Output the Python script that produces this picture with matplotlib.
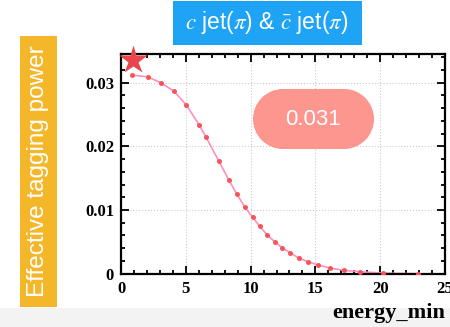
import matplotlib.pyplot as plt
from matplotlib.patches import Circle, Rectangle
from matplotlib.ticker import MultipleLocator

# data
energy_min = [0.85, 2.07, 3.05, 4.06, 5.05, 6.05, 6.57, 7.56, 8.31, 8.95, 9.55, 10.15,
              10.71, 11.26, 11.85, 12.42, 13.04, 13.71, 14.43, 15.2, 16.1, 17.17,
              18.46, 20.19, 22.9]
tag_power = [0.0312, 0.0309, 0.0300, 0.0287, 0.0265, 0.0233, 0.0214, 0.01765, 0.01476,
             0.01246, 0.01047, 0.00885, 0.00744, 0.00613, 0.00503, 0.00408, 0.0033,
             0.00246, 0.00189, 0.00137, 0.0009, 0.00053, 0.0003, 0.0001, 0.0]
best_x = 0.93
best_y = 0.03355
best_label = "0.031"
x_ticks = [0, 5, 10, 15, 20, 25]
y_ticks = [0, 0.01, 0.02, 0.03]
y_ticklabels = ["0", "0.01", "0.02", "0.03"]

plt.rcParams['mathtext.fontset'] = 'stix'

fig = plt.figure(figsize=(4.5, 3.27), dpi=100)

# overlay in pixel units for the decorative boxes
deco = fig.add_axes([0, 0, 1, 1], zorder=-1)
deco.set_xlim(0, 450)
deco.set_ylim(327, 0)
deco.axis('off')
deco.add_patch(Rectangle((0, 308), 450, 19, facecolor='#f3f3f3', edgecolor='none'))
deco.add_patch(Rectangle((20, 36), 37, 271, facecolor='#f5b72a', edgecolor='none'))
deco.add_patch(Rectangle((173, 1), 189, 43.7, facecolor='#1fa3f5', edgecolor='none'))

ax = fig.add_axes([121 / 450, 1 - 273.7 / 327, 324 / 450, (273.7 - 54) / 327])
ax.plot(energy_min, tag_power, color='#ff8fc0', lw=1.2, zorder=2)
ax.plot(energy_min, tag_power, 'o', color='#f5555a', ms=3.6, mec='none', zorder=3)
ax.plot(best_x, best_y, marker='*', color='#e8454c', ms=21, mec='none',
        clip_on=False, zorder=5)

ax.set_xlim(0, 25)
ax.set_ylim(0, 0.0345)
ax.set_xticks(x_ticks)
ax.set_yticks(y_ticks)
ax.set_yticklabels(y_ticklabels)
ax.xaxis.set_minor_locator(MultipleLocator(1))
ax.yaxis.set_minor_locator(MultipleLocator(0.002))
ax.tick_params(which='both', direction='in', top=True, right=True, width=1.3)
ax.tick_params(which='major', length=6, pad=5)
ax.tick_params(which='minor', length=3)
for lab in ax.get_xticklabels() + ax.get_yticklabels():
    lab.set_family('Liberation Serif')
    lab.set_weight('bold')
    lab.set_fontsize(12)
for sp in ax.spines.values():
    sp.set_linewidth(1.6)
ax.grid(True, which='major', linestyle=':', color='#cccccc', lw=0.8)

# badge with the best value, drawn on top of the plot
badge = fig.add_axes([0, 0, 1, 1], zorder=10)
badge.set_xlim(0, 450)
badge.set_ylim(327, 0)
badge.axis('off')
pill = '#fc968f'
badge.add_patch(Rectangle((283, 89), 61, 60, facecolor=pill, edgecolor='none'))
badge.add_patch(Circle((283, 119), 30, facecolor=pill, edgecolor='none'))
badge.add_patch(Circle((344, 119), 30, facecolor=pill, edgecolor='none'))
badge.text(313.5, 119.5, best_label, ha='center', va='center', color='white',
           family='Liberation Sans', fontsize=16)

# x label
badge.text(445, 318, "energy_min", ha='right', va='baseline',
           family='Liberation Serif', weight='bold', fontsize=16)

# y label in orange box
badge.text(38.5, 171, "Effective tagging power", rotation=90, ha='center',
           va='center', color='white', family='Liberation Sans', fontsize=17.5)

# title in blue box
badge.text(267, 23, r"$c$ jet($\pi$) & $\bar{c}$ jet($\pi$)", ha='center',
           va='center', color='white', family='Liberation Sans', fontsize=16.5)

fig.savefig('out.png', dpi=100)
